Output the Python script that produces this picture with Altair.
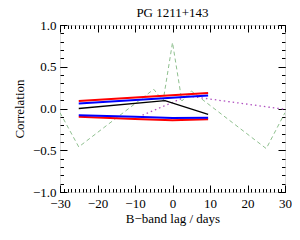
import altair as alt
import pandas as pd

FONT = "Liberation Serif"

green_lag = [-30, -25, -5, -2.5, 0, 2.5, 5, 25, 30]
green_val = [-0.05, -0.46, 0.23, 0.09, 0.79, 0.09, 0.21, -0.48, -0.05]

purple_lag = [-8, 4, 30]
purple_val = [-0.08, 0.15, -0.01]

red_hi_lag = [-25, 9.5]
red_hi_val = [0.09, 0.185]
red_lo_lag = [-25, -10, 0, 9.5]
red_lo_val = [-0.10, -0.125, -0.14, -0.13]

blue_hi_lag = [-25, 9.5]
blue_hi_val = [0.06, 0.155]
blue_lo_lag = [-25, -10, 0, 9.5]
blue_lo_val = [-0.08, -0.10, -0.115, -0.11]

black_lag = [-25, -2, 9.5]
black_val = [0.0, 0.095, -0.07]

x_major = [-30, -20, -10, 0, 10, 20, 30]
x_minor = list(range(-30, 31))
y_major = [-1.0, -0.5, 0.0, 0.5, 1.0]
y_minor = [i / 10 for i in range(-10, 11)]

W, H = 225, 167

xs = alt.Scale(domain=[-30, 30], nice=False, zero=False)
ys = alt.Scale(domain=[-1, 1], nice=False, zero=False)


def df(lag, val):
    return pd.DataFrame({"lag": lag, "corr": val})


def line(lag, val, color, width, dash=None):
    kw = dict(color=color, strokeWidth=width, clip=True)
    if dash:
        kw["strokeDash"] = dash
    return alt.Chart(df(lag, val)).mark_line(**kw).encode(
        x=alt.X("lag:Q", scale=xs, axis=None),
        y=alt.Y("corr:Q", scale=ys, axis=None),
    )


main = alt.Chart(df(green_lag, green_val)).mark_point(opacity=0).encode(
    x=alt.X("lag:Q", scale=xs, axis=alt.Axis(
        orient="bottom", values=x_major, format="d", ticks=False, domain=False,
        grid=False, labelFont=FONT, labelFontSize=13, labelColor="black",
        labelFlush=False, labelPadding=5, title="B\u2212band lag / days",
        titleFont=FONT, titleFontSize=13, titleFontWeight="normal",
        titleColor="black", titlePadding=2)),
    y=alt.Y("corr:Q", scale=ys, axis=alt.Axis(
        orient="left", values=y_major, format=".1f", ticks=False, domain=False,
        grid=False, labelFont=FONT, labelFontSize=13, labelColor="black",
        labelFlush=False, labelPadding=4, title="Correlation",
        titleFont=FONT, titleFontSize=13, titleFontWeight="normal",
        titleColor="black", titlePadding=6)),
)


def tick_layer(xorient, xoff, yorient, yoff, xvals, yvals, size):
    return alt.Chart(df(green_lag, green_val)).mark_point(opacity=0).encode(
        x=alt.X("lag:Q", scale=xs, axis=alt.Axis(
            orient=xorient, offset=xoff, values=xvals, labels=False,
            domain=False, grid=False, tickSize=size, tickColor="black",
            tickWidth=1, title=None)),
        y=alt.Y("corr:Q", scale=ys, axis=alt.Axis(
            orient=yorient, offset=yoff, values=yvals, labels=False,
            domain=False, grid=False, tickSize=size, tickColor="black",
            tickWidth=1, title=None)),
    )


# inward ticks: axes of the opposite side shifted across the plot
t1 = tick_layer("top", -H, "right", -W, x_major, y_major, 7)
t2 = tick_layer("top", -H, "right", -W, x_minor, y_minor, 3.5)
t3 = tick_layer("bottom", -H, "left", -W, x_major, y_major, 7)
t4 = tick_layer("bottom", -H, "left", -W, x_minor, y_minor, 3.5)

lines = [
    line(green_lag, green_val, "#8fc08f", 1, [4, 3]),
    line(purple_lag, purple_val, "#b050c0", 1.3, [1.5, 3]),
    line(red_hi_lag, red_hi_val, "#ff0000", 2),
    line(red_lo_lag, red_lo_val, "#ff0000", 2),
    line(blue_hi_lag, blue_hi_val, "#0000ff", 2),
    line(blue_lo_lag, blue_lo_val, "#0000ff", 2),
    line(black_lag, black_val, "#000000", 1.3),
]

chart = alt.layer(main, t1, t2, t3, t4, *lines).resolve_axis(
    x="independent", y="independent"
).properties(
    width=W, height=H,
    title=alt.TitleParams("PG 1211+143", font=FONT, fontSize=13,
                          fontWeight="normal", color="black", offset=-1,
                          anchor="middle"),
    autosize=alt.AutoSizeParams(type="none"),
    padding={"left": 52, "top": 17, "right": 7, "bottom": 40},
).configure_view(stroke="black", strokeWidth=1).configure_axis(
    labelFont=FONT, titleFont=FONT
).configure(background="white", font=FONT)

chart.save("out.html", embed_options={"renderer": "svg", "actions": False})
